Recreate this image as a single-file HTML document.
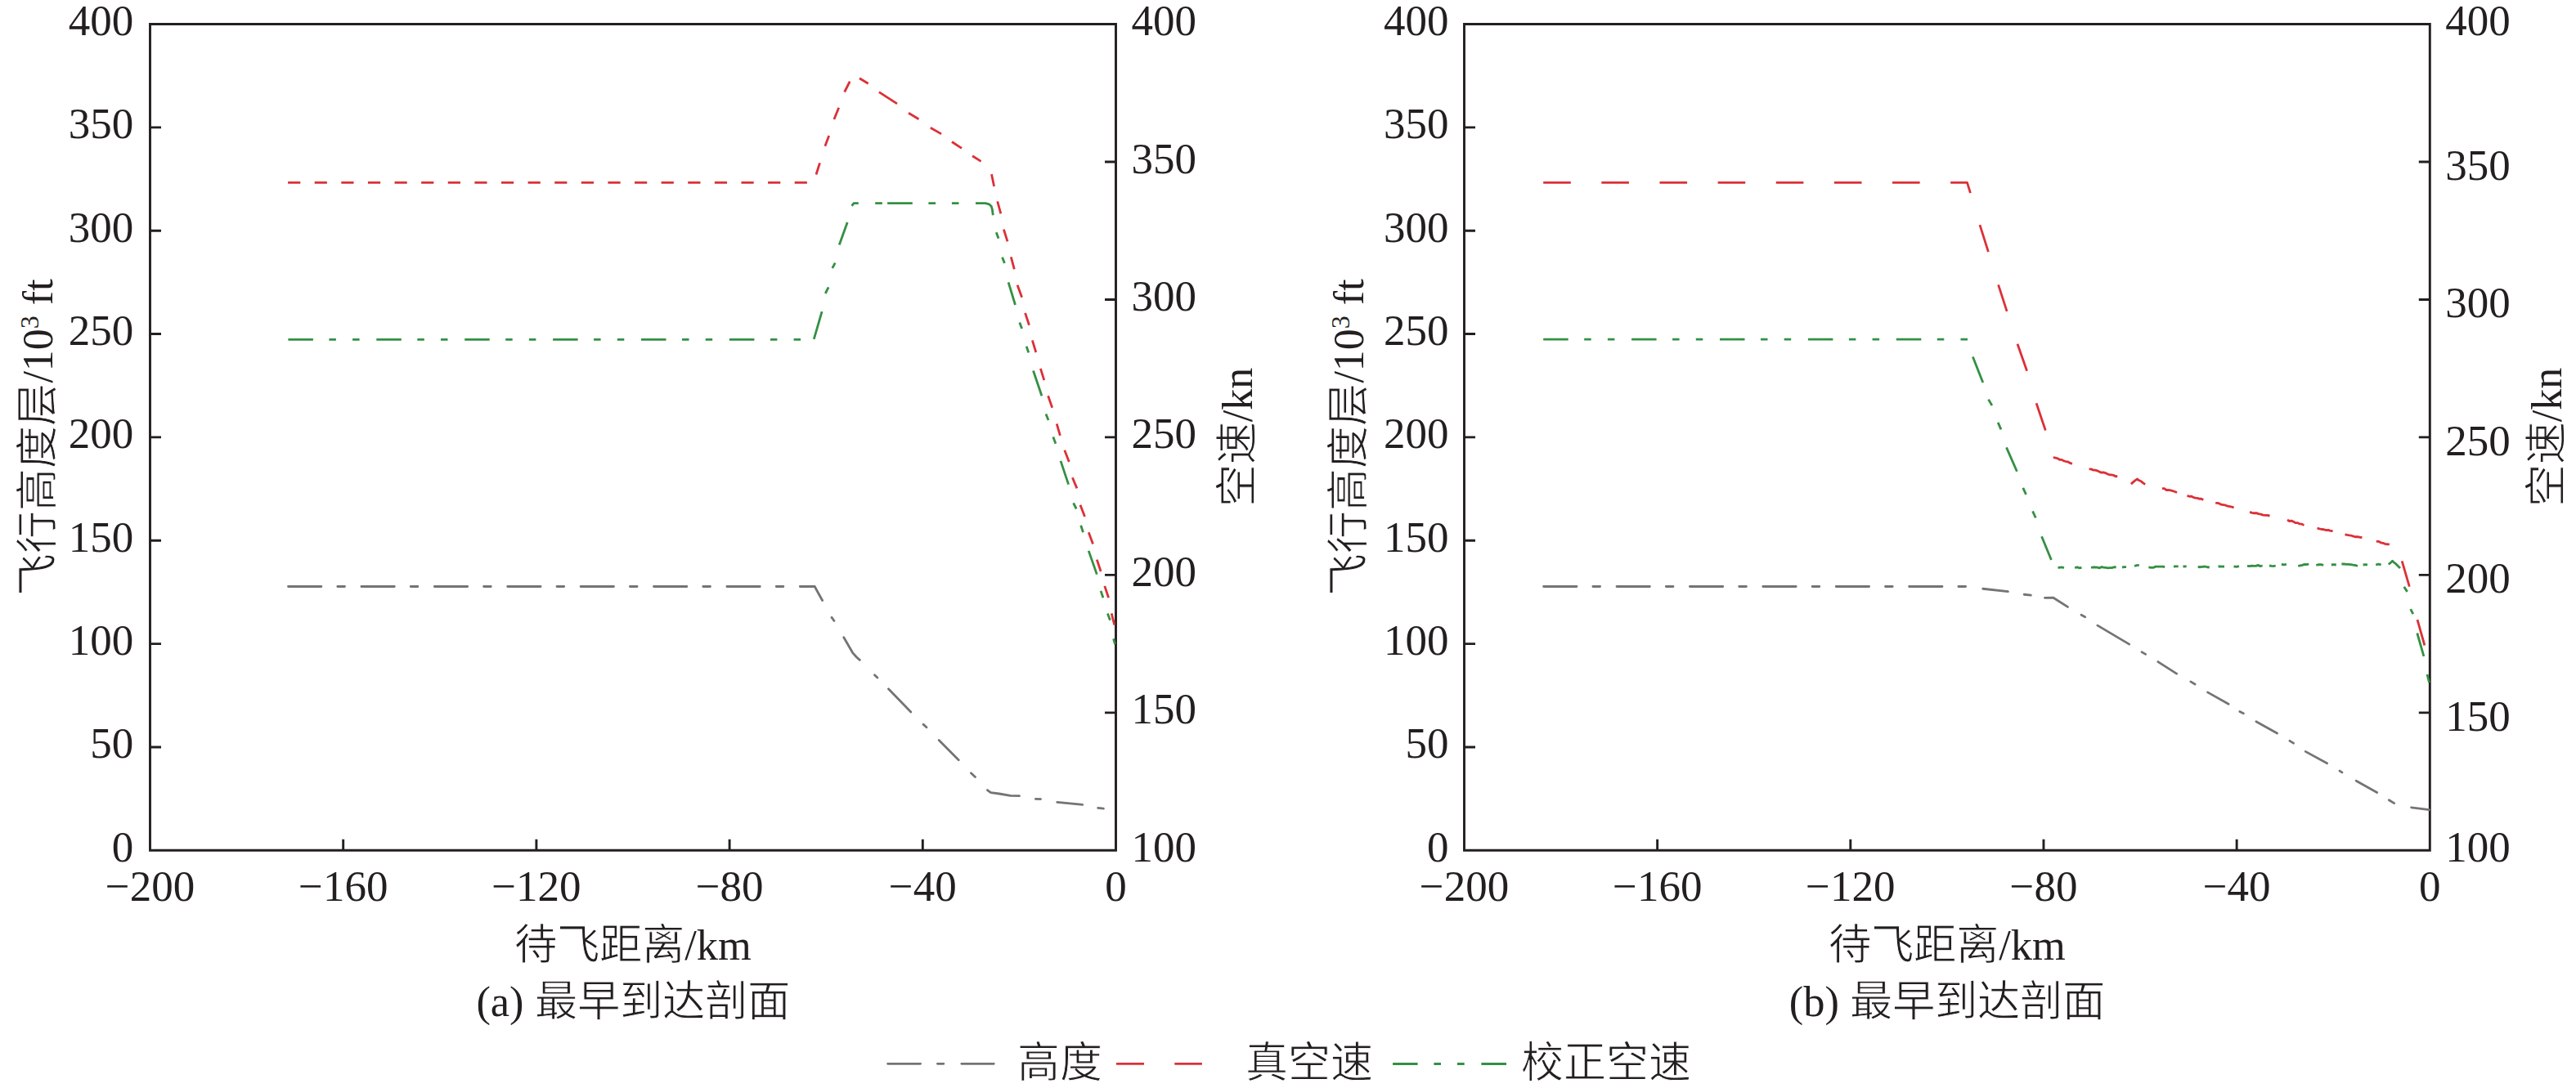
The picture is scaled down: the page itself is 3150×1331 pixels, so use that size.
<!DOCTYPE html>
<html lang="zh-CN"><head><meta charset="utf-8"><style>
html,body{margin:0;padding:0;background:#fff;width:3150px;height:1331px;overflow:hidden}
svg{display:block}
text{font-family:"Liberation Serif",serif;font-size:53px;fill:#231f20}
.t52{font-size:52px}
.t524{font-size:52.4px}
.c{stroke:#fff;stroke-width:0.9px}
</style></head><body>
<svg width="3150" height="1331" viewBox="0 0 3150 1331">
<path d="M183.5,1040.3 L183.5,29.5 L1364.5,29.5 L1364.5,1040.3 Z" fill="none" stroke="#231f20" stroke-width="2.9" stroke-linejoin="miter"/>
<path d="M183.5,913.95h13.5 M183.5,787.60h13.5 M183.5,661.25h13.5 M183.5,534.90h13.5 M183.5,408.55h13.5 M183.5,282.20h13.5 M183.5,155.85h13.5 M1364.5,871.83h-13.5 M1364.5,703.37h-13.5 M1364.5,534.90h-13.5 M1364.5,366.43h-13.5 M1364.5,197.97h-13.5 M419.70,1040.3v-13.5 M655.90,1040.3v-13.5 M892.10,1040.3v-13.5 M1128.30,1040.3v-13.5" stroke="#231f20" stroke-width="2.9" fill="none"/>
<text x="163.2" y="1053.8" text-anchor="end">0</text>
<text x="163.2" y="927.4" text-anchor="end">50</text>
<text x="163.2" y="801.1" text-anchor="end">100</text>
<text x="163.2" y="674.8" text-anchor="end">150</text>
<text x="163.2" y="548.4" text-anchor="end">200</text>
<text x="163.2" y="422.0" text-anchor="end">250</text>
<text x="163.2" y="295.7" text-anchor="end">300</text>
<text x="163.2" y="169.4" text-anchor="end">350</text>
<text x="163.2" y="43.0" text-anchor="end">400</text>
<text x="1383.5" y="1053.8">100</text>
<text x="1383.5" y="885.3">150</text>
<text x="1383.5" y="716.9">200</text>
<text x="1383.5" y="548.4">250</text>
<text x="1383.5" y="379.9">300</text>
<text x="1383.5" y="211.5">350</text>
<text x="1383.5" y="43.0">400</text>
<text x="183.5" y="1102" text-anchor="middle">−200</text>
<text x="419.7" y="1102" text-anchor="middle">−160</text>
<text x="655.9" y="1102" text-anchor="middle">−120</text>
<text x="892.1" y="1102" text-anchor="middle">−80</text>
<text x="1128.3" y="1102" text-anchor="middle">−40</text>
<text x="1364.5" y="1102" text-anchor="middle">0</text>
<text x="774.0" y="1174" class="t524" text-anchor="middle"><tspan class="c">待飞距离</tspan>/km</text>
<text x="774.0" y="1243" class="t524" text-anchor="middle">(a) <tspan class="c">最早到达剖面</tspan></text>
<text class="t52" transform="translate(63.5,535) rotate(-90)" text-anchor="middle"><tspan class="c">飞行高度层</tspan>/10<tspan font-size="32" dy="-17">3</tspan><tspan dy="17"> ft</tspan></text>
<text class="t52" transform="translate(1530.5,535) rotate(-90)" text-anchor="middle"><tspan class="c">空速</tspan>/kn</text>
<path d="M352.5,717.5 L392.9,717.5 M412.8,717.5 L421.5,717.5 M441.9,717.5 L482.3,717.5 M502.2,717.5 L510.9,717.5 M531.3,717.5 L571.7,717.5 M591.6,717.5 L600.3,717.5 M620.7,717.5 L661.1,717.5 M681,717.5 L689.7,717.5 M710.1,717.5 L750.5,717.5 M770.4,717.5 L779.1,717.5 M799.5,717.5 L839.9,717.5 M859.8,717.5 L868.5,717.5 M888.9,717.5 L929.3,717.5 M949.2,717.5 L957.9,717.5 M978.3,717.5 L996.2,717.5 M996.2,717.5 L1005.6,734.5 M1017.02,755.34 L1019.98,759.46 M1031.8,779.81 L1042.5,798.3 L1047.5,804 L1051.35,807.38 M1069.5,825.78 L1072.9,829.12 M1086.47,842.71 L1113.83,870.99 M1129.03,886.15 L1132.97,889.75 M1148.19,905.59 L1172.21,929.71 M1187.43,945.75 L1192.47,950.45 M1207.42,966.54 L1211.6,969.7 L1221.8,971 L1235.6,973.4 L1246.5,973.67 M1266.4,977.35 L1272.5,977.55 M1292.79,981.44 L1323.71,984.46 M1342.69,988.35 L1349.41,989.05" fill="none" stroke="#767374" stroke-width="2.8" stroke-linecap="round" stroke-linejoin="round"/>
<path d="M352.1,223.4 L367.3,223.4 M384.71,223.4 L399.91,223.4 M417.32,223.4 L432.52,223.4 M449.93,223.4 L465.13,223.4 M482.54,223.4 L497.74,223.4 M515.15,223.4 L530.35,223.4 M547.76,223.4 L562.96,223.4 M580.37,223.4 L595.57,223.4 M612.98,223.4 L628.18,223.4 M645.59,223.4 L660.79,223.4 M678.2,223.4 L693.4,223.4 M710.81,223.4 L726.01,223.4 M743.42,223.4 L758.62,223.4 M776.03,223.4 L791.23,223.4 M808.64,223.4 L823.84,223.4 M841.25,223.4 L856.45,223.4 M873.86,223.4 L889.06,223.4 M906.47,223.4 L921.67,223.4 M939.08,223.4 L954.28,223.4 M971.69,223.4 L986.89,223.4 M998,213.5 L1002.5,199.3 M1008.9,178.7 L1013.7,165.9 M1019.9,146 L1025.7,131.8 M1032.7,112.5 L1039.2,99.6 M1051,95.7 L1061.7,102.3 M1074.9,112.6 L1097,126.9 M1111,138.3 L1123.5,145.7 M1137.8,156.3 L1151.1,163.9 M1164,173.5 L1176,181.4 M1189.1,190.8 L1199.6,197.4 M1212.5,213.1 L1215.6,228 M1219.7,246.3 L1223.8,261.3 M1227.4,280.7 L1232,295.4 M1236.3,314.3 L1240.3,329.4 M1244.1,348.7 L1249.6,363.7 M1253.6,382.9 L1258.5,397.7 M1262.4,416.4 L1266.8,431 M1272.4,450.8 L1276.8,465.2 M1281.6,484.3 L1286.7,498.7 M1292.2,518.5 L1296.4,532.9 M1301.8,550.8 L1307.3,565.1 M1311.4,584.2 L1316.9,597.4 M1321,617.7 L1326.5,632 M1331.2,651.2 L1336.5,665.5 M1341.3,684.6 L1346.1,699 M1350.8,716.9 L1355.6,731.3 M1359.2,750.4 L1362.8,764.7" fill="none" stroke="#dc3037" stroke-width="2.8" stroke-linecap="butt" stroke-linejoin="round"/>
<path d="M352.4,415.3 L382.9,415.3 M402.4,415.3 L410.9,415.3 M431.1,415.3 L439.6,415.3 M460.3,415.3 L490.8,415.3 M510.3,415.3 L518.8,415.3 M539,415.3 L547.5,415.3 M568.2,415.3 L598.7,415.3 M618.2,415.3 L626.7,415.3 M646.9,415.3 L655.4,415.3 M676.1,415.3 L706.6,415.3 M726.1,415.3 L734.6,415.3 M754.8,415.3 L763.3,415.3 M784,415.3 L814.5,415.3 M834,415.3 L842.5,415.3 M862.7,415.3 L871.2,415.3 M891.9,415.3 L922.4,415.3 M941.9,415.3 L950.4,415.3 M970.6,415.3 L979.1,415.3 M995.3,414.8 L1005.1,381.2 M1009.3,359 L1013.1,351.4 M1017.8,328.1 L1021.2,321.6 M1026.3,299.5 L1036.2,272 M1041.6,251.8 L1044,248.6 L1049.8,248.6 M1070.2,248.6 L1078.9,248.6 M1085.1,248.6 L1115.8,248.6 M1135.4,248.6 L1144.1,248.6 M1163.9,248.6 L1172.5,248.6 M1193,248.6 L1205,248.6 L1209.5,249.8 L1212.3,252.5 L1213.4,256.5 L1214.3,263.2 M1218.3,284.3 L1221,291.7 M1225.6,314.7 L1228.4,322 M1233.1,345.4 L1241.5,373 M1246.8,394.6 L1249.6,402 M1255.2,423.7 L1257.8,431.4 M1263.5,453.5 L1273.9,484.3 M1279,506.4 L1282,514.1 M1287.8,534.4 L1290.9,542.8 M1297,563.9 L1306.6,592.6 M1312.6,615.3 L1316.2,622.5 M1321.7,642.8 L1324.5,651.2 M1331.2,673.9 L1341.3,702.6 M1346.1,722.9 L1348.9,731.3 M1354.4,750.4 L1357.5,758.7 M1361.6,781.4 L1363.5,788" fill="none" stroke="#349043" stroke-width="2.8" stroke-linecap="butt" stroke-linejoin="round"/>
<path d="M1790.5,1040.3 L1790.5,29.5 L2971.3,29.5 L2971.3,1040.3 Z" fill="none" stroke="#231f20" stroke-width="2.9" stroke-linejoin="miter"/>
<path d="M1790.5,913.95h13.5 M1790.5,787.60h13.5 M1790.5,661.25h13.5 M1790.5,534.90h13.5 M1790.5,408.55h13.5 M1790.5,282.20h13.5 M1790.5,155.85h13.5 M2971.3,871.83h-13.5 M2971.3,703.37h-13.5 M2971.3,534.90h-13.5 M2971.3,366.43h-13.5 M2971.3,197.97h-13.5 M2026.66,1040.3v-13.5 M2262.82,1040.3v-13.5 M2498.98,1040.3v-13.5 M2735.14,1040.3v-13.5" stroke="#231f20" stroke-width="2.9" fill="none"/>
<text x="1771.5" y="1053.8" text-anchor="end">0</text>
<text x="1771.5" y="927.4" text-anchor="end">50</text>
<text x="1771.5" y="801.1" text-anchor="end">100</text>
<text x="1771.5" y="674.8" text-anchor="end">150</text>
<text x="1771.5" y="548.4" text-anchor="end">200</text>
<text x="1771.5" y="422.0" text-anchor="end">250</text>
<text x="1771.5" y="295.7" text-anchor="end">300</text>
<text x="1771.5" y="169.4" text-anchor="end">350</text>
<text x="1771.5" y="43.0" text-anchor="end">400</text>
<text x="2990.3" y="1053.8">100</text>
<text x="2990.3" y="893.8">150</text>
<text x="2990.3" y="725.4">200</text>
<text x="2990.3" y="556.9">250</text>
<text x="2990.3" y="388.4">300</text>
<text x="2990.3" y="220.0">350</text>
<text x="2990.3" y="43.0">400</text>
<text x="1790.5" y="1102" text-anchor="middle">−200</text>
<text x="2026.7" y="1102" text-anchor="middle">−160</text>
<text x="2262.8" y="1102" text-anchor="middle">−120</text>
<text x="2499.0" y="1102" text-anchor="middle">−80</text>
<text x="2735.1" y="1102" text-anchor="middle">−40</text>
<text x="2971.3" y="1102" text-anchor="middle">0</text>
<text x="2380.9" y="1174" class="t524" text-anchor="middle"><tspan class="c">待飞距离</tspan>/km</text>
<text x="2380.9" y="1243" class="t524" text-anchor="middle">(b) <tspan class="c">最早到达剖面</tspan></text>
<text class="t52" transform="translate(1667.0,535) rotate(-90)" text-anchor="middle"><tspan class="c">飞行高度层</tspan>/10<tspan font-size="32" dy="-17">3</tspan><tspan dy="17"> ft</tspan></text>
<text class="t52" transform="translate(3132.3,535) rotate(-90)" text-anchor="middle"><tspan class="c">空速</tspan>/kn</text>
<path d="M1887.6,717.5 L1928,717.5 M1947.9,717.5 L1956.6,717.5 M1977,717.5 L2017.4,717.5 M2037.3,717.5 L2046,717.5 M2066.4,717.5 L2106.8,717.5 M2126.7,717.5 L2135.4,717.5 M2155.8,717.5 L2196.2,717.5 M2216.1,717.5 L2224.8,717.5 M2245.2,717.5 L2285.6,717.5 M2305.5,717.5 L2314.2,717.5 M2334.6,717.5 L2375,717.5 M2394.9,717.5 L2403.6,717.5 M2424.79,720.25 L2455.41,723.55 M2475.19,727.24 L2483.41,728.06 M2500.5,731.29 L2510.9,731.2 L2528.42,742.44 M2545.03,752.17 L2549.67,754.73 M2564.9,765.11 L2603.7,788.09 M2619,797.61 L2623.7,800.39 M2638.88,809.56 L2661.62,824.14 M2678.81,833.91 L2684.09,836.99 M2699.52,846.88 L2725.08,861.22 M2738.85,870.43 L2743.35,872.67 M2758.92,882.68 L2784.48,897.02 M2799.99,906.34 L2804.51,909.16 M2819.23,919.37 L2845.57,933.73 M2861.07,943.07 L2863.93,944.93 M2881.22,955.19 L2906.68,969.51 M2921.3,978.72 L2927.7,982.58 M2948.59,987.87 L2970.61,990.63" fill="none" stroke="#767374" stroke-width="2.8" stroke-linecap="round" stroke-linejoin="round"/>
<path d="M1887.2,223.4 L1920.8,223.4 M1958.34,223.4 L1991.94,223.4 M2029.48,223.4 L2063.08,223.4 M2100.62,223.4 L2134.22,223.4 M2171.76,223.4 L2205.36,223.4 M2242.9,223.4 L2276.5,223.4 M2314.04,223.4 L2347.64,223.4 M2385.18,223.4 L2405.5,223.4 L2409.46,236.08 M2421,275.1 L2431.4,308.2 M2443.6,348.4 L2454.1,380.9 M2467,420.7 L2478.6,453.8 M2490.1,493.3 L2501.3,526.5 M2510.8,559.5 L2513.37,560.12 L2515.93,560.74 L2518.5,562.31 L2521.07,562.37 L2523.63,563.88 L2526.2,564.51 L2528.77,564.95 L2531.33,566.44 L2533.9,567.3 M2554.6,573.9 L2557.08,573.88 L2559.56,575.06 L2562.04,575.18 L2564.51,575.84 L2566.99,576.94 L2569.47,578.13 L2571.95,577.77 L2574.43,578.54 L2576.91,579.74 L2579.39,580.81 L2581.86,580.92 L2584.34,581.3 L2586.82,582.74 L2589.3,582.7 M2643.9,597.6 L2646.5,597.67 L2649.1,599.5 L2651.7,599.41 L2654.3,599.9 L2656.9,600.56 L2659.5,601.53 L2662.1,602.5 M2674.5,606.2 L2676.97,607.31 L2679.45,607.08 L2681.93,608.3 L2684.4,609.04 L2686.88,609.33 L2689.35,610.24 L2691.83,610.23 L2694.3,611.5 M2709.2,615.3 L2711.69,615.32 L2714.18,616.16 L2716.67,617.45 L2719.16,617.73 L2721.64,618.21 L2724.13,619.22 L2726.62,619.67 L2729.11,620.09 L2731.6,621 M2751.1,626.4 L2753.81,627.35 L2756.52,627.75 L2759.23,627.64 L2761.94,628.64 L2764.66,629.1 L2767.37,630.13 L2770.08,630.45 L2772.79,630.37 L2775.5,631.2 M2797,636 L2799.55,637.5 L2802.1,637.12 L2804.65,638.36 L2807.2,639.66 L2809.75,639.64 L2812.3,640.93 L2814.85,641.13 L2817.4,642.6 M2833.5,646.1 L2836.23,646.85 L2838.96,647.5 L2841.69,647.75 L2844.41,648.68 L2847.14,648.41 L2849.87,649.46 L2852.6,649.7 M2867.5,653.9 L2870.11,654.48 L2872.72,654.91 L2875.34,655.19 L2877.95,656.18 L2880.56,656.77 L2883.18,656.56 L2885.79,657.28 L2888.4,657.5 M2905.8,662.3 L2908.48,662.28 L2911.17,663.78 L2913.85,664.31 L2916.53,665.39 L2919.22,665.75 L2921.9,665.9 M2605.9,592.1 L2608.37,589.85 L2610.83,587.92 L2613.3,586 L2615.78,587.82 L2618.25,588.82 L2620.72,590.91 L2623.2,592.6 M2937.2,686.3 L2946.3,717.7 M2956,758.1 L2964.9,789.5" fill="none" stroke="#dc3037" stroke-width="2.8" stroke-linecap="butt" stroke-linejoin="round"/>
<path d="M1887.2,415.2 L1917.7,415.2 M1937.2,415.2 L1945.7,415.2 M1965.9,415.2 L1974.4,415.2 M1995.1,415.2 L2025.6,415.2 M2045.1,415.2 L2053.6,415.2 M2073.8,415.2 L2082.3,415.2 M2103,415.2 L2133.5,415.2 M2153,415.2 L2161.5,415.2 M2181.7,415.2 L2190.2,415.2 M2210.9,415.2 L2241.4,415.2 M2260.9,415.2 L2269.4,415.2 M2289.6,415.2 L2298.1,415.2 M2318.8,415.2 L2349.3,415.2 M2368.8,415.2 L2377.3,415.2 M2397.5,415.2 L2406,415.2 M2412.4,436.4 L2424.8,468.1 M2431.5,488.6 L2435.9,496 M2443.2,516.9 L2446.9,525.4 M2453.5,547.4 L2466.4,576.8 M2473.8,596.8 L2477.5,604.9 M2485.6,625.4 L2489.3,633.5 M2496.6,656.3 L2508.4,685 M2516.5,694.6 L2519,694.07 L2521.5,693.99 L2524,694.6 M2537.2,694.6 L2539.97,693.83 L2542.73,694.9 L2545.5,694.4 M2557,694.5 L2559.56,693.87 L2562.12,694.01 L2564.68,694.2 L2567.23,694.93 L2569.79,693.62 L2572.35,694.17 L2574.91,694.29 L2577.47,694.78 L2580.02,694.64 L2582.58,694.67 L2585.14,693.69 L2587.7,694 M2595,694 L2597.5,693.66 L2600,693.6 M2610,692.5 L2612.9,691.67 L2615.8,691.3 M2627.4,693.8 L2630.23,694.37 L2633.06,694.45 L2635.89,693.11 L2638.71,693.11 L2641.54,693.16 L2644.37,693.12 L2647.2,693.5 M2658,693 L2660.85,692.88 L2663.7,692.8 M2669.5,693 L2673.7,692.8 M2687.7,693.5 L2690.52,693.74 L2693.34,693.32 L2696.16,693.01 L2698.98,693.77 L2701.8,694 M2712.5,693 L2715,692.79 L2717.5,693.11 L2720,693 M2731.5,692.8 L2734.75,693.47 L2738,692.7 M2748,692.3 L2750.66,692.56 L2753.31,692.24 L2755.97,692.36 L2758.63,692.41 L2761.29,691.37 L2763.94,692.68 L2766.6,692 M2775,692 L2777.57,692.45 L2780.13,692.6 L2782.7,692 M2789.9,690.5 L2792.9,690.88 L2795.9,690.3 M2810.2,692.5 L2812.82,691.83 L2815.44,691.34 L2818.06,690.37 L2820.68,690.71 L2823.3,690 M2832.3,691.5 L2835.27,690.73 L2838.23,690.67 L2841.2,691.3 M2850.8,691 L2853.8,690.53 L2856.8,691 M2863.4,690 L2866.2,689.82 L2869,690.46 L2871.8,690.36 L2874.6,690.63 L2877.4,691.23 L2880.2,691.51 L2883,692.5 M2889.6,691 L2892.3,690.68 L2895,690.8 M2905.2,691 L2908.45,690.14 L2911.7,690.8 M2920.7,690.3 L2923.1,688.62 L2925.5,686.2 L2927.4,688.09 L2929.3,689.41 L2931.2,691.29 L2933.1,693.17 L2935,695.1 M2939.7,717.9 L2943.7,723.9 M2947.7,745.2 L2950.8,751.2 M2955.8,774.5 L2963.9,802.8 M2968,825 L2970.5,835" fill="none" stroke="#349043" stroke-width="2.8" stroke-linecap="butt" stroke-linejoin="round"/>
<path d="M1085.6,1301.3 H1125.6 M1146.4,1301.3 H1153.9 M1175.8,1301.3 H1215.3" stroke="#767374" stroke-width="2.8" stroke-linecap="round"/>
<text x="1244" y="1318" class="t52 c">高度</text>
<path d="M1365,1301.3 H1399 M1436.3,1301.3 H1469.9" stroke="#dc3037" stroke-width="2.8"/>
<text x="1523" y="1318" class="t52 c">真空速</text>
<path d="M1703.1,1301.5 H1733.6 M1753.4,1301.5 H1762 M1781.9,1301.5 H1790.7 M1811.4,1301.5 H1842" stroke="#349043" stroke-width="2.8"/>
<text x="1860" y="1318" class="t52 c">校正空速</text>
</svg>
</body></html>
